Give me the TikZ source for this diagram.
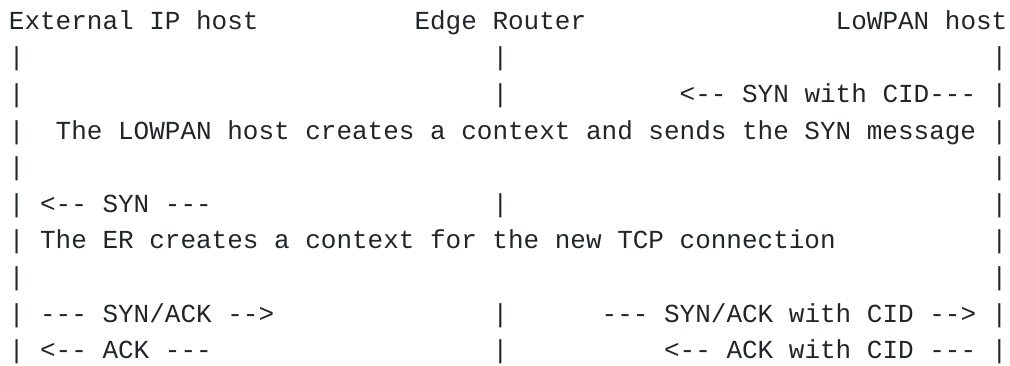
\documentclass[tikz,border=0pt]{standalone}
\usepackage{fontspec}
\newfontfamily\asciifont{Liberation Mono}
\definecolor{inkgray}{RGB}{33,37,41}
\tikzset{
  txt/.style={inner sep=0pt, outer sep=0pt, anchor=base west, text=inkgray,
    font=\asciifont\fontsize{26}{30}\selectfont},
}
% #1 name, #2 column, #3 row, #4 text
\newcommand\asciitext[4]{\node[txt] (#1) at ({(8.9+15.6*#2)*1pt},{-(29.3+36.6*#3)*1pt}) {#4};}
\begin{document}
\begin{tikzpicture}
\useasboundingbox (0,0) rectangle (1010pt,-366pt);
% row 0: headers
\asciitext{ext}{0}{0}{External IP host}
\asciitext{er}{26}{0}{Edge Router}
\asciitext{lowpan}{53}{0}{LoWPAN host}
% row 1
\asciitext{a1}{0}{1}{|}
\asciitext{b1}{31}{1}{|}
\asciitext{c1}{63}{1}{|}
% row 2
\asciitext{a2}{0}{2}{|}
\asciitext{b2}{31}{2}{|}
\asciitext{m2}{43}{2}{<-- SYN with CID---}
\asciitext{c2}{63}{2}{|}
% row 3
\asciitext{a3}{0}{3}{|}
\asciitext{m3}{3}{3}{The LOWPAN host creates a context and sends the SYN message}
\asciitext{c3}{63}{3}{|}
% row 4
\asciitext{a4}{0}{4}{|}
\asciitext{c4}{63}{4}{|}
% row 5
\asciitext{a5}{0}{5}{|}
\asciitext{m5}{2}{5}{<-- SYN ---}
\asciitext{b5}{31}{5}{|}
\asciitext{c5}{63}{5}{|}
% row 6
\asciitext{a6}{0}{6}{|}
\asciitext{m6}{2}{6}{The ER creates a context for the new TCP connection}
\asciitext{c6}{63}{6}{|}
% row 7
\asciitext{a7}{0}{7}{|}
\asciitext{c7}{63}{7}{|}
% row 8
\asciitext{a8}{0}{8}{|}
\asciitext{l8}{2}{8}{--- SYN/ACK -->}
\asciitext{b8}{31}{8}{|}
\asciitext{r8}{38}{8}{--- SYN/ACK with CID -->}
\asciitext{c8}{63}{8}{|}
% row 9
\asciitext{a9}{0}{9}{|}
\asciitext{l9}{2}{9}{<-- ACK ---}
\asciitext{b9}{31}{9}{|}
\asciitext{r9}{42}{9}{<-- ACK with CID ---}
\asciitext{c9}{63}{9}{|}
\end{tikzpicture}
\end{document}
